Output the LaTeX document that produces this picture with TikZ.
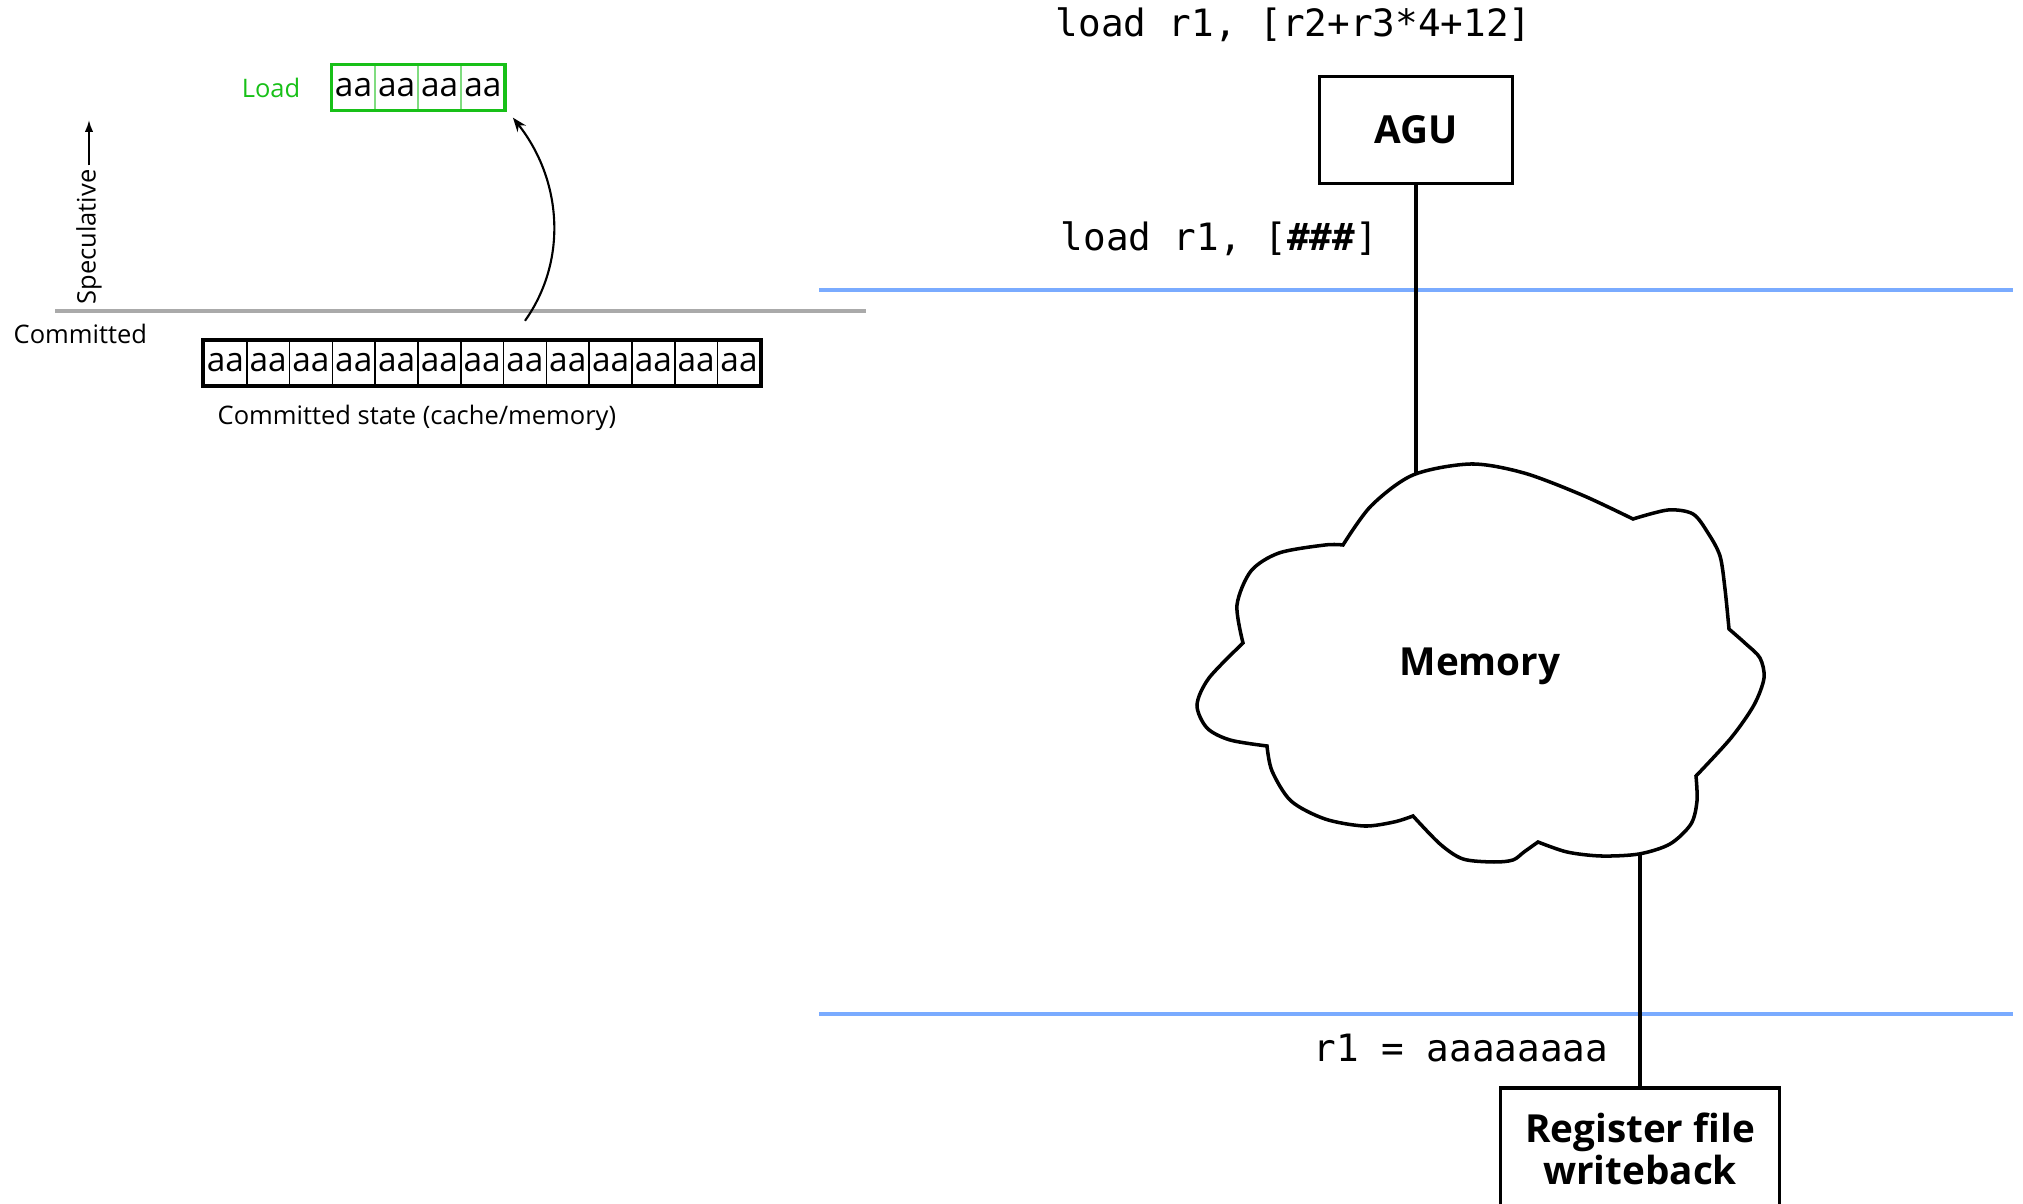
\documentclass[tikz,border=0pt]{standalone}
\usepackage{fontspec}
\setmainfont{Open Sans}
\setmonofont{DejaVu Sans Mono}
\usepackage{xcolor}
\usetikzlibrary{arrows.meta,positioning}
\definecolor{loadgreen}{RGB}{24,192,24}
\definecolor{stageblue}{RGB}{122,171,255}
\definecolor{commitgray}{RGB}{170,170,170}
\tikzset{
  unit/.style={
    draw,
    line width=1pt,
    align=center,
    inner sep=0pt,
    font=\bfseries\fontsize{11}{12}\selectfont
  },
  wire/.style={
    line width=0.9pt
  },
  stage/.style={
    stageblue,
    line width=1.1pt
  },
  code/.style={
    anchor=base west,
    inner sep=0pt,
    font=\ttfamily\fontsize{10.7}{12}\selectfont
  },
  note/.style={
    inner sep=1pt,
    font=\fontsize{7.25}{9}\selectfont
  },
  byte/.style={
    draw,
    line width=0.4pt,
    minimum width=0.428cm,
    minimum height=0.45cm,
    inner sep=0pt,
    font=\fontsize{9.5}{10}\selectfont
  }
}

\begin{document}
\begin{tikzpicture}[x=0.01cm, y=-0.01cm]
    \useasboundingbox (0,0) rectangle (2023,1204);
    \def\cw{42.8}
    \def\gw{43.1}
    % committed / speculative split
        \draw[commitgray, line width=0.9pt] (55,311) -- (866,311);
        \node[note, anchor=base west, inner sep=0pt] (committed) at (13,344) {Committed};
        \node[note, rotate=90] (spec) at (89,237) {Speculative};
        \coordinate (spectip) at (89,120);
        \draw[line width=0.55pt, -{Latex[length=3.4pt,width=2.4pt]}] (spec) -- (spectip);
        \foreach \i in {1,...,13}{
        \node[byte] (c\i) at ({204+\cw*(\i-0.5)}, 363) {aa};
        }
        \draw[line width=1.2pt] (c1.north west) rectangle (c13.south east);
        \node[note, anchor=base west, inner sep=0pt] (cstate) at (217,425) {Committed state (cache/memory)};
        \foreach \i in {1,...,4}{
        \node[byte, draw=loadgreen!55] (g\i) at ({332+\gw*(\i-0.5)}, 87.5) {aa};
        }
        \draw[loadgreen, line width=1pt] (g1.north west) rectangle (g4.south east);
        \node[note, loadgreen] (load) at (271,88) {Load};
        \draw[line width=0.6pt, -{Stealth[length=4pt,width=3pt]}] ([yshift=5.4pt]c8.north)
            .. controls (568,260) and (562,180) .. ([shift={(8,7)}]g4.south east);
    % pipeline
        \draw[stage] (819,290) -- (2013,290);
        \draw[stage] (819,1014) -- (2013,1014);
        \node[code] (addr) at (1055,37) {load r1, [r2+r3*4+12]};
        \node[unit, minimum width=1.93cm, minimum height=1.07cm] (agu) at (1416,130) {AGU};
        \node[code] (masked) at (1060,251) {load r1, [{\bfseries\#\#\#}]};
        \draw[line width=1pt, fill=white]
            plot[smooth] coordinates {(1343,545) (1371,506) (1413,475) (1471,464) (1524,473) (1582,495) (1633,519)}
            -- plot[smooth] coordinates {(1633,519) (1668,510) (1693,514) (1708,533) (1720,556) (1725,589) (1729,629)}
            -- plot[smooth] coordinates {(1729,629) (1746,644) (1760,658) (1764,678) (1754,705) (1731,738) (1696,776)}
            -- plot[smooth] coordinates {(1696,776) (1697,801) (1691,824) (1670,844) (1639,854) (1601,856) (1567,852) (1538,842)}
            -- plot[smooth] coordinates {(1538,842) (1524,852) (1513,860) (1494,862) (1463,859) (1440,844) (1413,816)}
            -- plot[smooth] coordinates {(1413,816) (1394,822) (1364,826) (1325,819) (1291,801) (1272,771) (1267,746)}
            -- plot[smooth] coordinates {(1267,746) (1230,740) (1207,728) (1197,705) (1209,678) (1243,643)}
            -- plot[smooth] coordinates {(1243,643) (1237,605) (1251,571) (1279,553) (1325,545) (1343,545)}
            -- cycle;
        \node[unit, draw=none] (mem) at (1480,666) {Memory};
        \coordinate (memtop) at (1416,474);
        \coordinate (membot) at (1640,855);
        \draw[wire] (agu) -- (memtop);
        \node[code] (result) at (1313,1062) {r1 = aaaaaaaa};
        \node[unit, minimum width=2.79cm, minimum height=1.22cm] (regfile) at (1640,1149) {Register file\\writeback};
        \draw[wire] (membot) -- (regfile);
\end{tikzpicture}
\end{document}
